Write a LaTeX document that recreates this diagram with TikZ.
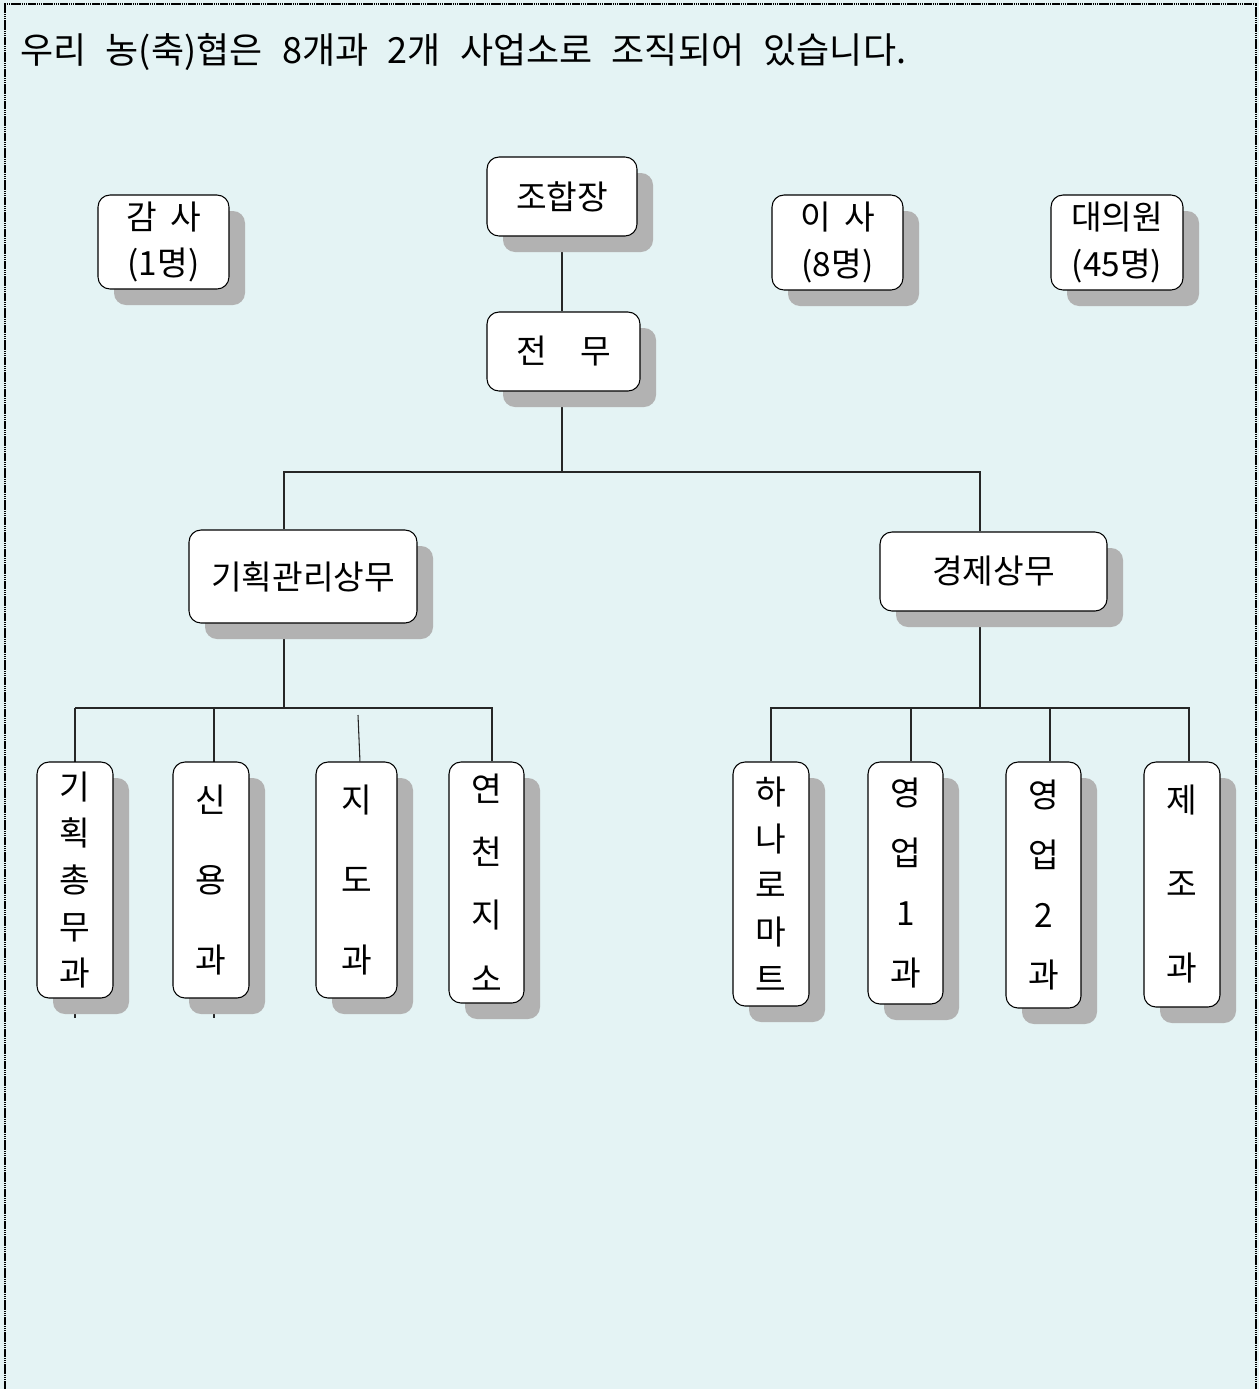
\documentclass[tikz,border=0pt]{standalone}
\usepackage{fontspec}
\newfontfamily\kr{Noto Sans CJK KR}
\newfontfamily\krt[WordSpace=2.4]{Noto Sans CJK KR}
\usetikzlibrary{shadows,backgrounds}
\definecolor{bgc}{HTML}{E4F3F4}
\definecolor{shc}{HTML}{B2B2B2}
\tikzset{
  box/.style={draw=black, line width=0.8pt, fill=white, rounded corners=9pt,
    inner sep=0pt, align=center,
    drop shadow={shadow xshift=12pt, shadow yshift=-12pt, fill=shc, opacity=1}},
  conn/.style={draw=black!85, line width=0.8pt},
  framestyle/.style={draw=black, line width=2pt, dash pattern=on 1.2pt off 0.4pt},
}
\newcommand\orgbox[7]{\node[box, minimum width={(#4-#2)*0.75pt}, minimum height={(#5-#3)*0.75pt},
  font=\kr\fontsize{25}{#6}\selectfont] (#1) at ({(#2+#4)/2},{(#3+#5)/2}) {#7};}
\begin{document}
\begin{tikzpicture}[x=0.75pt,y=-0.75pt]
\useasboundingbox (0,0) rectangle (1259,1389);
% title
\node[anchor=west, inner sep=0pt, font=\krt\fontsize{27}{32}\selectfont] (title) at (20,52)
  {우리 농(축)협은 8개과 2개 사업소로 조직되어 있습니다.};
% top level
\orgbox{jhj}{487}{157}{637}{236}{30}{조합장}
\orgbox{jm}{487}{312}{640}{391}{30}{전\hspace{1em}무}
\orgbox{gs}{98}{195}{229}{289}{35}{감\hspace{0.4em}사\\(1명)}
\orgbox{is}{772}{195}{903}{290}{35}{이\hspace{0.4em}사\\(8명)}
\orgbox{dew}{1051}{195}{1183}{290}{35}{대의원\\(45명)}
% second level
\orgbox{gk}{189}{530}{417}{623}{30}{기획관리상무}
\orgbox{gj}{880}{532}{1107}{611}{30}{경제상무}
% left children
\orgbox{c1}{37}{762}{113}{998}{35}{기\\획\\총\\무\\과}
\orgbox{c2}{173}{762}{249}{998}{60}{신\\용\\과}
\orgbox{c3}{316}{762}{397}{998}{60}{지\\도\\과}
\orgbox{c4}{449}{762}{524}{1003}{47.5}{연\\천\\지\\소}
% right children
\orgbox{d1}{733}{762}{809}{1006}{35}{하\\나\\로\\마\\트}
\orgbox{d2}{868}{762}{943}{1004}{45}{영\\업\\1\\과}
\orgbox{d3}{1006}{762}{1081}{1008}{45}{영\\업\\2\\과}
\orgbox{d4}{1144}{762}{1220}{1007}{63}{제\\조\\과}
% bus coordinates
\coordinate (busT) at (562,472);
\coordinate (busTL) at (284,472);
\coordinate (busTR) at (980,472);
\coordinate (busL) at (284,708);
\coordinate (busLa) at (75,708);
\coordinate (busLb) at (214,708);
\coordinate (busLd) at (492,708);
\coordinate (stubC) at (358,715);
\coordinate (busR) at (980,708);
\coordinate (busRa) at (771,708);
\coordinate (busRb) at (911,708);
\coordinate (busRc) at (1050,708);
\coordinate (busRd) at (1189,708);
\coordinate (endA) at (75,1018);
\coordinate (endB) at (214,1018);
\begin{pgfonlayer}{background}
  \fill[bgc] (0,0) rectangle (1259,1389);
  \draw[framestyle] (5,1389) -- (5,4) -- (1256,4) -- (1256,1389);
  \draw[conn] (busT |- jhj.south) -- (busT |- jm.north);
  \draw[conn] (busT |- jm.south) -- (busT);
  \draw[conn] (busTL |- gk.north) -- (busTL) -- (busTR) -- (busTR |- gj.north);
  \draw[conn] (busL |- gk.south) -- (busL);
  \draw[conn] (busLa) -- (busLd) -- (busLd |- c4.north);
  \draw[conn] (busLa) -- (endA);
  \draw[conn] (busLb) -- (endB);
  \draw[conn] (stubC) -- ([xshift=2.6pt]c3.north);
  \draw[conn] (busR |- gj.south) -- (busR);
  \draw[conn] (busRa |- d1.north) -- (busRa) -- (busRd) -- (busRd |- d4.north);
  \draw[conn] (busRb) -- (busRb |- d2.north);
  \draw[conn] (busRc) -- (busRc |- d3.north);
\end{pgfonlayer}
\end{tikzpicture}
\end{document}
